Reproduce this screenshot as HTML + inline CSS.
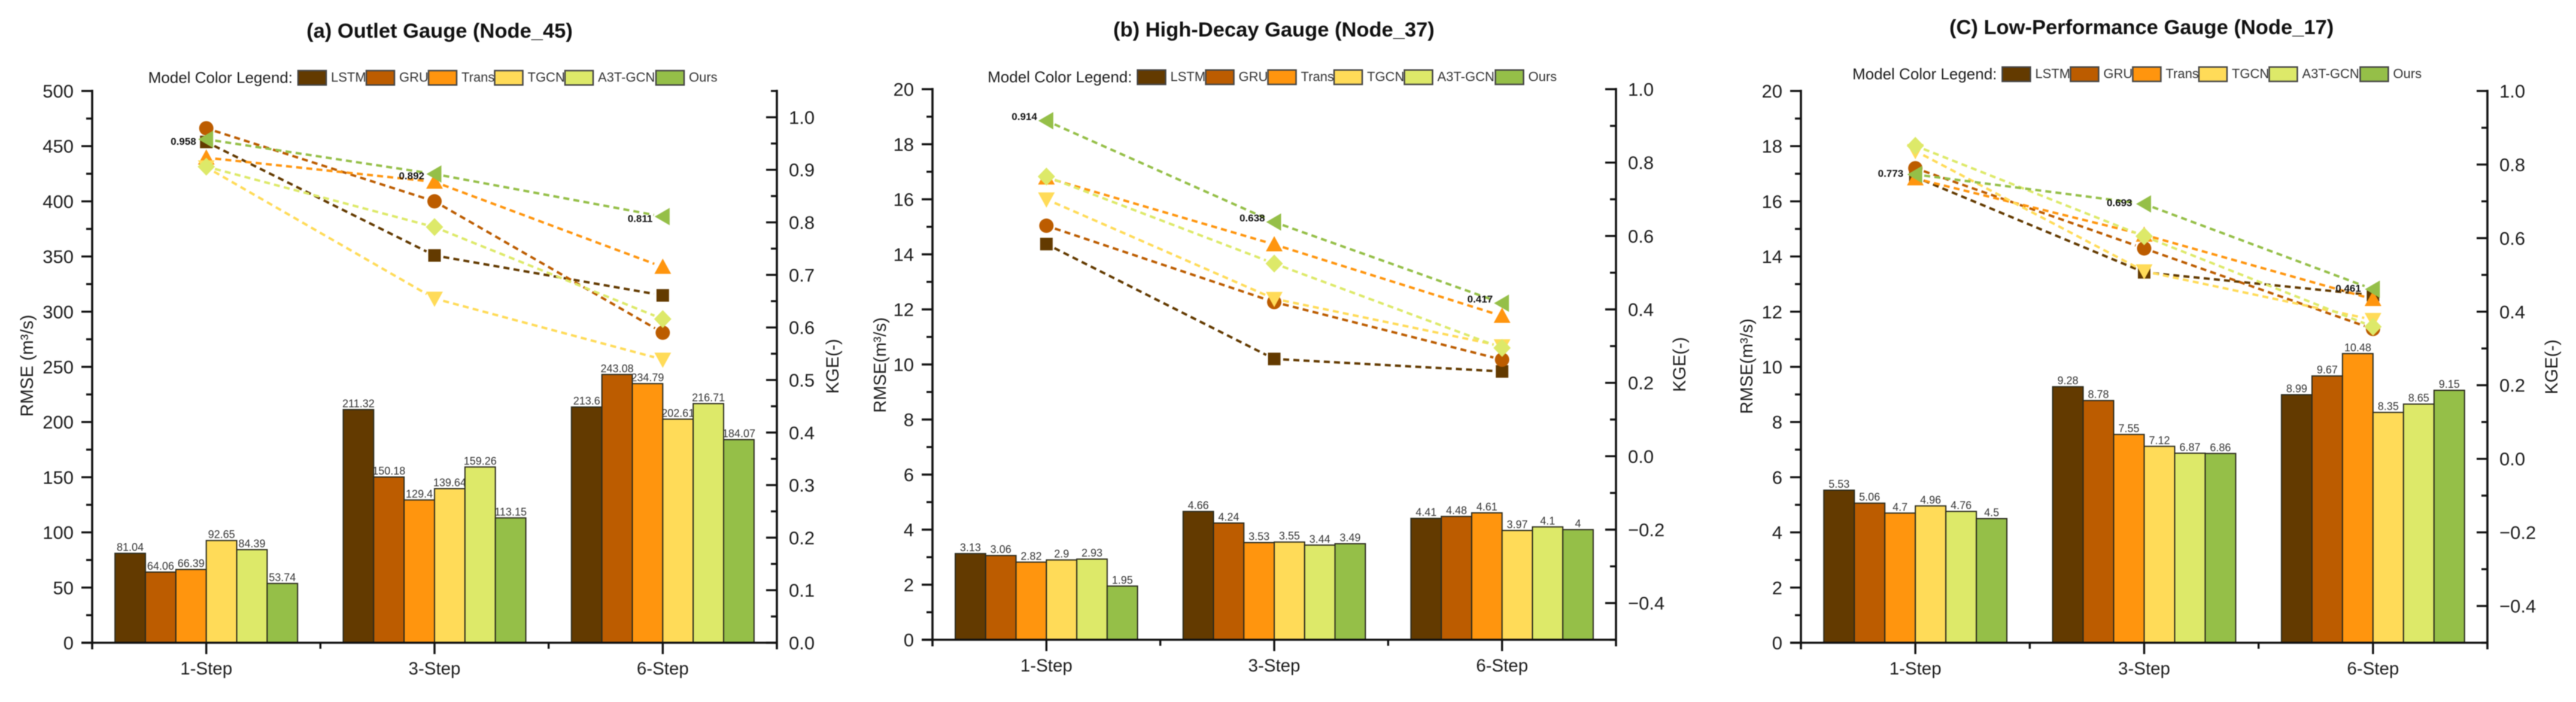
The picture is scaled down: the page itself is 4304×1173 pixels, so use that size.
<!DOCTYPE html>
<html lang="en">
<head>
<meta charset="utf-8">
<title>RMSE and KGE by gauge</title>
<style>
html,body{margin:0;padding:0;background:#fff;}
body{width:4304px;height:1173px;overflow:hidden;}
svg{display:block;filter:blur(0.8px);}
text{font-family:"Liberation Sans",Arial,sans-serif;fill:#1d1d1d;}
</style>
</head>
<body>
<svg id="chart" xmlns="http://www.w3.org/2000/svg" width="4304" height="1173" viewBox="0 0 4304 1173">
  <rect x="0" y="0" width="4304" height="1173" fill="#ffffff"/>

  <text x="734.5" y="63" text-anchor="middle" font-size="34.5" font-weight="bold" style="fill:#111">(a) Outlet Gauge (Node_45)</text>
  <text x="1860" y="61" font-size="34.5" font-weight="bold" style="fill:#111">(b) High-Decay Gauge (Node_37)</text>
  <text x="3257" y="57" font-size="34.5" font-weight="bold" style="fill:#111">(C) Low-Performance Gauge (Node_17)</text>

  <text transform="translate(55,611) rotate(-90)" text-anchor="middle" font-size="29.5">RMSE (m³/s)</text>
  <text transform="translate(1480,610) rotate(-90)" text-anchor="middle" font-size="29">RMSE(m³/s)</text>
  <text transform="translate(2928,612) rotate(-90)" text-anchor="middle" font-size="29">RMSE(m³/s)</text>

  <text transform="translate(1401,612) rotate(-90)" text-anchor="middle" font-size="29.5">KGE(-)</text>
  <text transform="translate(2816,609) rotate(-90)" text-anchor="middle" font-size="29.5">KGE(-)</text>
  <text transform="translate(4273,613) rotate(-90)" text-anchor="middle" font-size="29.5">KGE(-)</text>
</svg>

<script>
// ---------- shared categories ----------
const categories = ['1-Step', '3-Step', '6-Step'];
const modelNames = ['LSTM', 'GRU', 'Trans', 'TGCN', 'A3T-GCN', 'Ours'];

// ---------- panel (a) Outlet Gauge: RMSE per step, in model order ----------
const rmseOutlet1Step = [81.04, 64.06, 66.39, 92.65, 84.39, 53.74];
const rmseOutlet3Step = [211.32, 150.18, 129.4, 139.64, 159.26, 113.15];
const rmseOutlet6Step = [213.6, 243.08, 234.79, 202.61, 216.71, 184.07];
// panel (a): KGE per model, in step order
const kgeOutletLSTM = [0.953, 0.737, 0.661];
const kgeOutletGRU = [0.979, 0.840, 0.590];
const kgeOutletTrans = [0.923, 0.877, 0.715];
const kgeOutletTGCN = [0.905, 0.655, 0.539];
const kgeOutletA3T = [0.906, 0.791, 0.616];
const kgeOutletOurs = [0.958, 0.892, 0.811];

// ---------- panel (b) High-Decay Gauge ----------
const rmseDecay1Step = [3.13, 3.06, 2.82, 2.9, 2.93, 1.95];
const rmseDecay3Step = [4.66, 4.24, 3.53, 3.55, 3.44, 3.49];
const rmseDecay6Step = [4.41, 4.48, 4.61, 3.97, 4.1, 4];
const kgeDecayLSTM = [0.578, 0.265, 0.231];
const kgeDecayGRU = [0.628, 0.420, 0.263];
const kgeDecayTrans = [0.759, 0.577, 0.382];
const kgeDecayTGCN = [0.700, 0.429, 0.300];
const kgeDecayA3T = [0.762, 0.525, 0.295];
const kgeDecayOurs = [0.914, 0.638, 0.417];

// ---------- panel (c) Low-Performance Gauge ----------
const rmseLow1Step = [5.53, 5.06, 4.7, 4.96, 4.76, 4.5];
const rmseLow3Step = [9.28, 8.78, 7.55, 7.12, 6.87, 6.86];
const rmseLow6Step = [8.99, 9.67, 10.48, 8.35, 8.65, 9.15];
const kgeLowLSTM = [0.766, 0.507, 0.445];
const kgeLowGRU = [0.790, 0.572, 0.353];
const kgeLowTrans = [0.762, 0.609, 0.434];
const kgeLowTGCN = [0.837, 0.510, 0.378];
const kgeLowA3T = [0.851, 0.605, 0.359];
const kgeLowOurs = [0.773, 0.693, 0.461];

// ---------- axis tick values ----------
const rmseTicksOutlet = [0, 50, 100, 150, 200, 250, 300, 350, 400, 450, 500];
const rmseTicksSmall = [0, 2, 4, 6, 8, 10, 12, 14, 16, 18, 20];
const kgeTicksOutlet = [0, 0.1, 0.2, 0.3, 0.4, 0.5, 0.6, 0.7, 0.8, 0.9, 1.0];
const kgeTicksWide = [-0.4, -0.2, 0, 0.2, 0.4, 0.6, 0.8, 1.0];

// ---------- styling and layout (not data) ----------
const modelColors = ['#633a00', '#bc5c00', '#ff950e', '#ffdb58', '#dde969', '#95bf48'];
const legendBoxOffsets = [0, 114, 218, 328.5, 446, 598];
const SVG_NS = 'http://www.w3.org/2000/svg';
const AXIS_COLOR = '#111111';

const panels = [
  { key: 'a', x0: 154, x1: 1298, yTop: 152, yBase: 1074,
    rmseByStep: [rmseOutlet1Step, rmseOutlet3Step, rmseOutlet6Step],
    kgeByModel: [kgeOutletLSTM, kgeOutletGRU, kgeOutletTrans, kgeOutletTGCN, kgeOutletA3T, kgeOutletOurs],
    rmseMax: 500, rmseTicks: rmseTicksOutlet, kgeMin: 0, kgeMax: 1.05, kgeTicks: kgeTicksOutlet,
    legendX: 498, legendY: 118, kgeLabelDx: 17, kgeLabelDy: 9 },
  { key: 'b', x0: 1558, x1: 2700, yTop: 149, yBase: 1069,
    rmseByStep: [rmseDecay1Step, rmseDecay3Step, rmseDecay6Step],
    kgeByModel: [kgeDecayLSTM, kgeDecayGRU, kgeDecayTrans, kgeDecayTGCN, kgeDecayA3T, kgeDecayOurs],
    rmseMax: 20, rmseTicks: rmseTicksSmall, kgeMin: -0.5, kgeMax: 1.0, kgeTicks: kgeTicksWide,
    legendX: 1900.5, legendY: 117, kgeLabelDx: 15.5, kgeLabelDy: -1 },
  { key: 'c', x0: 3009, x1: 4156, yTop: 152, yBase: 1074,
    rmseByStep: [rmseLow1Step, rmseLow3Step, rmseLow6Step],
    kgeByModel: [kgeLowLSTM, kgeLowGRU, kgeLowTrans, kgeLowTGCN, kgeLowA3T, kgeLowOurs],
    rmseMax: 20, rmseTicks: rmseTicksSmall, kgeMin: -0.5, kgeMax: 1.0, kgeTicks: kgeTicksWide,
    legendX: 3345.4, legendY: 112, kgeLabelDx: 20, kgeLabelDy: 4 }
];

const root = document.getElementById('chart');

function make(tag, parent, attrs, content) {
  const node = document.createElementNS(SVG_NS, tag);
  for (const k in attrs) node.setAttribute(k, attrs[k]);
  if (content !== undefined) node.textContent = content;
  parent.appendChild(node);
  return node;
}

function linearScale(d0, d1, r0, r1) {
  return function (v) { return r0 + (v - d0) * (r1 - r0) / (d1 - d0); };
}

function minorValues(ticks, lo, hi) {
  const out = [];
  for (let i = 0; i + 1 < ticks.length; i++) out.push((ticks[i] + ticks[i + 1]) / 2);
  if (ticks[0] > lo) out.push(lo);
  if (ticks[ticks.length - 1] < hi) out.push(hi);
  return out;
}

function formatKge(v) {
  const s = Math.abs(v).toFixed(1);
  return v < -1e-9 ? '\u2212' + s : s;
}

function drawMarker(parent, modelIndex, cx, cy) {
  const fill = modelColors[modelIndex];
  let el;
  if (modelIndex === 0) {
    el = make('rect', parent, { x: cx - 10.5, y: cy - 10.5, width: 21, height: 21, fill: fill });
  } else if (modelIndex === 1) {
    el = make('circle', parent, { cx: cx, cy: cy, r: 12, fill: fill });
  } else if (modelIndex === 2) {
    el = make('polygon', parent, { points: [cx, cy - 14, cx + 14, cy + 11.5, cx - 14, cy + 11.5].join(','), fill: fill });
  } else if (modelIndex === 3) {
    el = make('polygon', parent, { points: [cx - 14, cy - 11.5, cx + 14, cy - 11.5, cx, cy + 14].join(','), fill: fill });
  } else if (modelIndex === 4) {
    el = make('polygon', parent, { points: [cx, cy - 15, cx + 14.5, cy, cx, cy + 15, cx - 14.5, cy].join(','), fill: fill });
  } else {
    el = make('polygon', parent, { points: [cx - 13.5, cy, cx + 11.5, cy - 14.5, cx + 11.5, cy + 14.5].join(','), fill: fill });
  }
  
  
}

function drawPanel(p) {
  const group = make('g', root, {});
  
  

  const band = (p.x1 - p.x0) / categories.length;
  const catX = function (i) { return p.x0 + (i + 0.5) * band; };
  const yRmse = linearScale(0, p.rmseMax, p.yBase, p.yTop);
  const yKge = linearScale(p.kgeMin, p.kgeMax, p.yBase, p.yTop);
  const barWidth = band * 0.8 / modelNames.length;

  // legend
  const legendLead = make('text', group, { x: p.legendX - 9, y: p.legendY + 20.5, 'text-anchor': 'end', 'font-size': 26 }, 'Model Color Legend:');
  
  
  modelNames.forEach(function (name, m) {
    const bx = p.legendX + legendBoxOffsets[m];
    const swatch = make('rect', group, { x: bx, y: p.legendY, width: 47, height: 24, fill: modelColors[m], stroke: '#444', 'stroke-width': 2.5 });
    
    
    const label = make('text', group, { x: bx + 55, y: p.legendY + 18.5, 'font-size': 22, style: 'fill:#333' }, name);
    
    
  });

  // bars
  p.rmseByStep.forEach(function (values, s) {
    values.forEach(function (v, m) {
      const left = catX(s) - band * 0.4 + m * barWidth;
      const top = yRmse(v);
      const bar = make('rect', group, { x: left, y: top, width: barWidth, height: p.yBase - top, fill: modelColors[m], stroke: '#2a2a1c', 'stroke-width': 2 });
      
      
      const valueLabel = make('text', group, { x: left + barWidth / 2, y: top - 4, 'text-anchor': 'middle', 'font-size': 18, style: 'fill:#333' }, String(v));
      
      
    });
  });

  // KGE dashed lines with a gap around each symbol, then markers on top
  p.kgeByModel.forEach(function (series, m) {
    for (let i = 0; i + 1 < series.length; i++) {
      const ax = catX(i), ay = yKge(series[i]), bx = catX(i + 1), by = yKge(series[i + 1]);
      const len = Math.hypot(bx - ax, by - ay), gap = 15;
      const ux = (bx - ax) / len, uy = (by - ay) / len;
      const seg = make('line', group, { x1: ax + ux * gap, y1: ay + uy * gap, x2: bx - ux * gap, y2: by - uy * gap, stroke: modelColors[m], 'stroke-width': 4, 'stroke-dasharray': '10 7' });
      
      
    }
  });
  p.kgeByModel.forEach(function (series, m) {
    series.forEach(function (v, i) { drawMarker(group, m, catX(i), yKge(v)); });
  });
  const oursSeries = p.kgeByModel[p.kgeByModel.length - 1];
  oursSeries.forEach(function (v, i) {
    const t = make('text', group, { x: catX(i) - p.kgeLabelDx, y: yKge(v) + p.kgeLabelDy, 'text-anchor': 'end', 'font-size': 17, 'font-weight': 'bold', style: 'fill:#111' }, v.toFixed(3));
    
    
  });

  // left axis
  const leftAxis = make('line', group, { x1: p.x0, y1: p.yTop - 2, x2: p.x0, y2: p.yBase + 11, stroke: AXIS_COLOR, 'stroke-width': 3.6 });
  
  
  p.rmseTicks.forEach(function (v) {
    const y = yRmse(v);
    const tick = make('line', group, { x1: p.x0 - 18, y1: y, x2: p.x0, y2: y, stroke: AXIS_COLOR, 'stroke-width': 3.4 });
    
    
    const label = make('text', group, { x: p.x0 - 31, y: y + 11, 'text-anchor': 'end', 'font-size': 31 }, String(v));
    
    
  });
  minorValues(p.rmseTicks, 0, p.rmseMax).forEach(function (v) {
    const y = yRmse(v);
    const tick = make('line', group, { x1: p.x0 - 10, y1: y, x2: p.x0, y2: y, stroke: AXIS_COLOR, 'stroke-width': 3.4 });
    
    
  });

  // right axis (ticks point inward)
  const rightAxis = make('line', group, { x1: p.x1, y1: p.yTop - 2, x2: p.x1, y2: p.yBase + 11, stroke: AXIS_COLOR, 'stroke-width': 3.6 });
  
  
  p.kgeTicks.forEach(function (v) {
    const y = yKge(v);
    const tick = make('line', group, { x1: p.x1 - 18, y1: y, x2: p.x1, y2: y, stroke: AXIS_COLOR, 'stroke-width': 3.4 });
    
    
    const label = make('text', group, { x: p.x1 + 20, y: y + 11, 'font-size': 31 }, formatKge(v));
    
    
  });
  minorValues(p.kgeTicks, p.kgeMin, p.kgeMax).forEach(function (v) {
    const y = yKge(v);
    const tick = make('line', group, { x1: p.x1 - 10, y1: y, x2: p.x1, y2: y, stroke: AXIS_COLOR, 'stroke-width': 3.4 });
    
    
  });

  // x axis
  const xAxis = make('line', group, { x1: p.x0 - 18, y1: p.yBase, x2: p.x1, y2: p.yBase, stroke: AXIS_COLOR, 'stroke-width': 3.4 });
  
  
  categories.forEach(function (name, i) {
    const x = catX(i);
    const tick = make('line', group, { x1: x, y1: p.yBase, x2: x, y2: p.yBase + 19, stroke: AXIS_COLOR, 'stroke-width': 3.4 });
    
    
    const label = make('text', group, { x: x, y: p.yBase + 53, 'text-anchor': 'middle', 'font-size': 29.5 }, name);
    
    
  });
  for (let i = 1; i < categories.length; i++) {
    const x = p.x0 + i * band;
    const tick = make('line', group, { x1: x, y1: p.yBase, x2: x, y2: p.yBase + 10, stroke: AXIS_COLOR, 'stroke-width': 3.4 });
    
    
  }
}

panels.forEach(drawPanel);
</script>
</body>
</html>
